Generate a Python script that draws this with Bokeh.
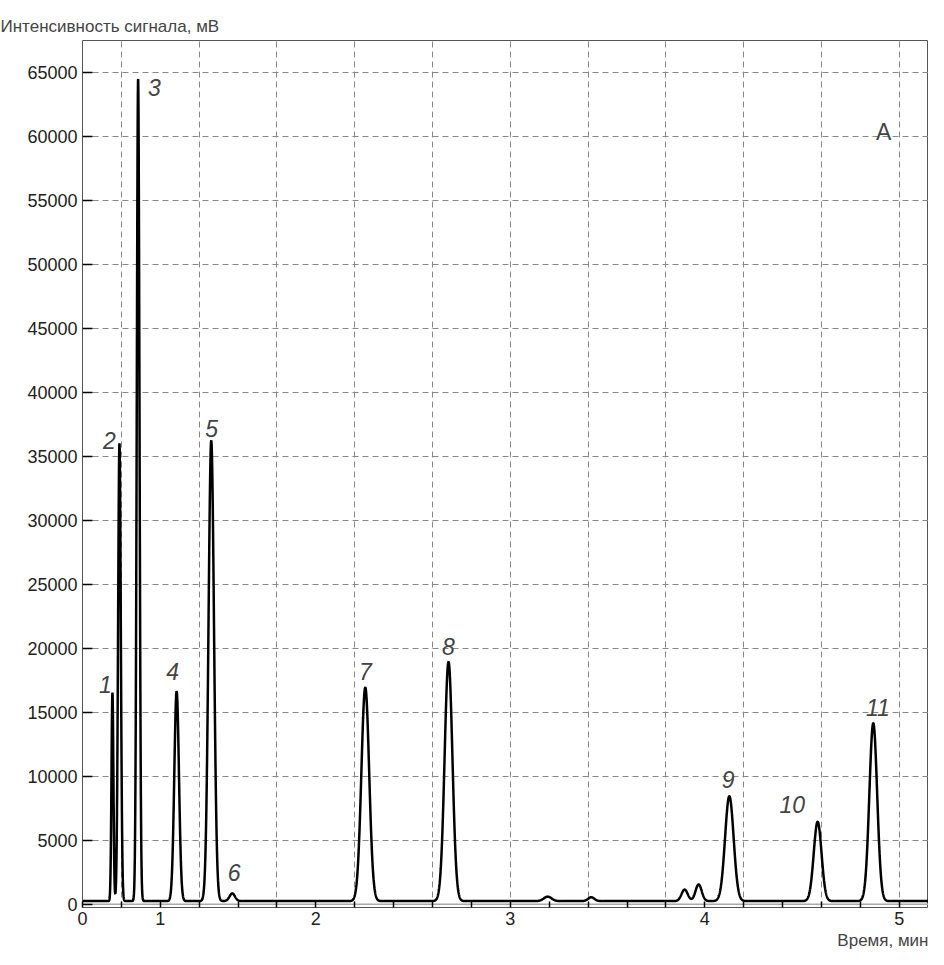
import numpy as np
from bokeh.plotting import figure
from bokeh.models import FixedTicker, Range1d, Label, Title
from bokeh.embed import file_html
from bokeh.resources import INLINE

# x is in tick units (one tick per 0.2 of the drawn axis)
tick_pos = list(range(0, 22))
tick_labels = {0: "0", 2: "1", 6: "2", 11: "3", 16: "4", 21: "5"}
grid_pos = list(range(1, 22, 2))

peak_x = [0.77, 0.95, 1.43, 2.42, 3.31, 3.85, 7.27, 9.41, 11.96, 13.08, 15.48, 15.84, 16.63, 18.9, 20.33]
peak_h = [16300, 35800, 64300, 16400, 36000, 600, 16700, 18700, 350, 300, 900, 1300, 8200, 6200, 13900]
peak_w = [0.025, 0.035, 0.035, 0.06, 0.07, 0.07, 0.1, 0.1, 0.1, 0.08, 0.08, 0.08, 0.11, 0.1, 0.1]
baseline = 250

lbl_text = ["1", "2", "3", "4", "5", "6", "7", "8", "9", "10", "11"]
lbl_x = [0.59, 0.69, 1.85, 2.32, 3.32, 3.9, 7.27, 9.41, 16.6, 18.25, 20.45]
lbl_y = [16500, 35600, 63200, 17500, 36500, 1800, 17500, 19500, 9100, 7100, 14700]

x = np.linspace(0, 21.75, 5000)
y = np.full_like(x, float(baseline))
for c, h, w in zip(peak_x, peak_h, peak_w):
    y += h * np.exp(-0.5 * ((x - c) / w) ** 2)

p = figure(width=928, height=950, output_backend="svg", toolbar_location=None,
           x_range=Range1d(0, 21.75), y_range=Range1d(-250, 67500),
           min_border_left=82, min_border_right=0, min_border_top=40, min_border_bottom=30)
p.outline_line_color = "#555555"
p.line(x, np.zeros_like(x), line_color="#aaaaaa", line_width=1.5)
p.line(x, y, line_color="black", line_width=2.5)

for t, lx, ly in zip(lbl_text, lbl_x, lbl_y):
    p.add_layout(Label(x=lx, y=ly, text=t, text_font="Liberation Sans", text_font_style="italic",
                       text_font_size="23px", text_align="center", text_baseline="bottom"))
p.add_layout(Label(x=20.6, y=59300, text="A", text_font="Liberation Sans",
                   text_font_size="23px", text_align="center"))

p.xaxis.ticker = FixedTicker(ticks=tick_pos)
p.xaxis.major_label_overrides = {i: tick_labels.get(i, "") for i in tick_pos}
p.yaxis.ticker = FixedTicker(ticks=list(range(0, 65001, 5000)))
p.xgrid.ticker = FixedTicker(ticks=grid_pos)
for ax in (p.xaxis, p.yaxis):
    ax.major_tick_in = 10
    ax.major_tick_out = 0
    ax.minor_tick_line_color = None
    ax.axis_line_color = None
    ax.major_tick_line_width = 1.5
    ax.major_label_text_font = "Liberation Sans"
    ax.major_label_text_font_size = "18px"
    ax.major_label_text_color = "#222222"
p.xaxis.major_tick_in = 6
p.xaxis.major_label_standoff = 4
for g in (p.xgrid, p.ygrid):
    g.grid_line_color = "#888888"
    g.grid_line_dash = "6 4"
    g.grid_line_width = 1

p.add_layout(Title(text="Время, мин", align="right", text_font="Liberation Sans",
                   text_font_size="17px", text_font_style="normal", offset=0, standoff=2), "below")
p.add_layout(Title(text="Интенсивность сигнала, мВ", align="left", text_font="Liberation Sans",
                   text_font_size="17px", text_font_style="normal", offset=-82), "above")

open("out.html", "w").write(file_html(p, INLINE))
